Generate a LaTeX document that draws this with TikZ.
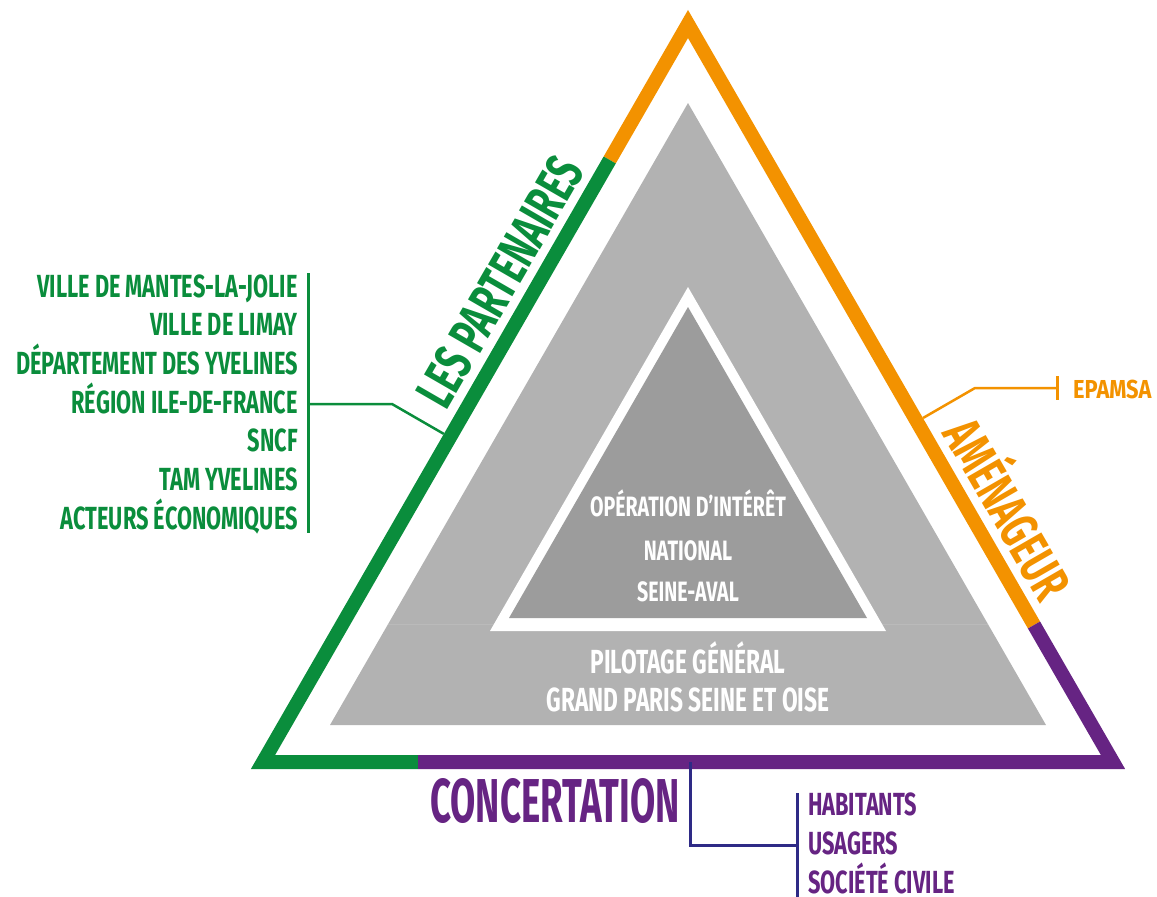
\documentclass[tikz,border=0pt]{standalone}
\usepackage{fontspec}
\newfontfamily\bebas{Fira Sans}
\usetikzlibrary{calc}
\definecolor{orangeA}{HTML}{F39200}
\definecolor{vertP}{HTML}{0A8D3C}
\definecolor{violetC}{HTML}{662483}
\definecolor{indigoC}{HTML}{2E2A86}
\definecolor{grisC}{HTML}{B2B2B2}
\definecolor{grisF}{HTML}{9C9C9C}

\begin{document}
\begin{tikzpicture}[x=1pt, y=-1pt,
  txt/.style 2 args={inner sep=0pt,
    font=\bebas\bfseries\fontsize{#1}{#1}\selectfont\addfontfeatures{FakeStretch=#2}},
  cote/.style={line width=14pt, line join=miter}]
  \useasboundingbox (0,0) rectangle (1157,897);
  % Triangle exterieur (axe du trait)
  \coordinate (A) at (688,24);
  \coordinate (L) at (263,762);
  \coordinate (R) at (1113,762);
  \coordinate (gv) at (609.7,160);
  \coordinate (ov) at (1034,625);
  \coordinate (vb) at (418,762);
  \draw[cote, orangeA] (gv) -- (A) -- (ov);
  \draw[cote, vertP] (gv) -- (L) -- (vb);
  \draw[cote, violetC] (vb) -- (R) -- (ov);
  % Pilotage general
  \fill[grisC] (688,103) -- (330,725) -- (1046,725) -- cycle;
  \draw[grisC!90!white, line width=1pt] (388,624) -- (988,624);
  % OIN
  \fill[white] (688,287) -- (490,631) -- (886,631) -- cycle;
  \fill[grisF] (688,307) -- (509,618) -- (867,618) -- cycle;
  \node[txt={28}{0.70}, text=white, anchor=base] (oin1) at (688,516) {OPÉRATION D’INTÉRÊT};
  \node[txt={28}{0.70}, text=white, anchor=base] (oin2) at (688,560) {NATIONAL};
  \node[txt={28}{0.70}, text=white, anchor=base] (oin3) at (688,601) {SEINE-AVAL};
  \node[txt={33.4}{0.68}, text=white, anchor=base] (pil1) at (688,673.5) {PILOTAGE GÉNÉRAL};
  \node[txt={33.4}{0.68}, text=white, anchor=base] (pil2) at (688,711.5) {GRAND PARIS SEINE ET OISE};
  % Les partenaires
  \node[txt={53.6}{0.657}, text=vertP, rotate=60, anchor=base] (partenaires) at (516.2,290.9) {LES PARTENAIRES};
  \foreach \nom [count=\i] in {VILLE DE MANTES-LA-JOLIE, VILLE DE LIMAY,
      DÉPARTEMENT DES YVELINES, RÉGION ILE-DE-FRANCE, SNCF, TAM YVELINES,
      ACTEURS ÉCONOMIQUES}
    \node[txt={32}{0.68}, text=vertP, anchor=base east] (part\i) at (298,{297+38.7*(\i-1)}) {\nom};
  \coordinate (gH) at (308,273);
  \coordinate (gB) at (308,533);
  \coordinate (gM) at (308,404);
  \coordinate (gK) at (392,404);
  \coordinate (gC) at (443.8,433.9);
  \draw[vertP, line width=3pt] (gH) -- (gB);
  \draw[vertP, line width=2.5pt] (gM) -- (gK) -- (gC);
  % Amenageur
  \node[txt={53.6}{0.657}, text=orangeA, rotate=-60, anchor=base] (amenageur) at (991,518.8) {AMÉNAGEUR};
  \node[txt={26}{0.84}, text=orangeA, anchor=base west] (epamsa) at (1073,398) {EPAMSA};
  \coordinate (oC) at (923,418);
  \coordinate (oK) at (975,388);
  \coordinate (oT) at (1057,388);
  \draw[orangeA, line width=2.5pt] (oC) -- (oK) -- (oT);
  \draw[orangeA, line width=3pt] ($(oT)+(0,-12)$) -- ($(oT)+(0,12)$);
  % Concertation
  \node[txt={62}{0.59}, text=violetC, anchor=base east] (concertation) at (680,822) {CONCERTATION};
  \coordinate (cH) at (690,762);
  \coordinate (cK) at (690,845);
  \coordinate (cM) at (797,845);
  \coordinate (cT) at (797,793);
  \coordinate (cB) at (797,897);
  \draw[indigoC, line width=3pt] (cH) -- (cK) -- (cM);
  \draw[indigoC, line width=3pt] (cT) -- (cB);
  \foreach \nom [count=\i] in {HABITANTS, USAGERS, SOCIÉTÉ CIVILE}
    \node[txt={32}{0.68}, text=violetC, anchor=base west] (conc\i) at (808,{815+39*(\i-1)}) {\nom};
\end{tikzpicture}
\end{document}
